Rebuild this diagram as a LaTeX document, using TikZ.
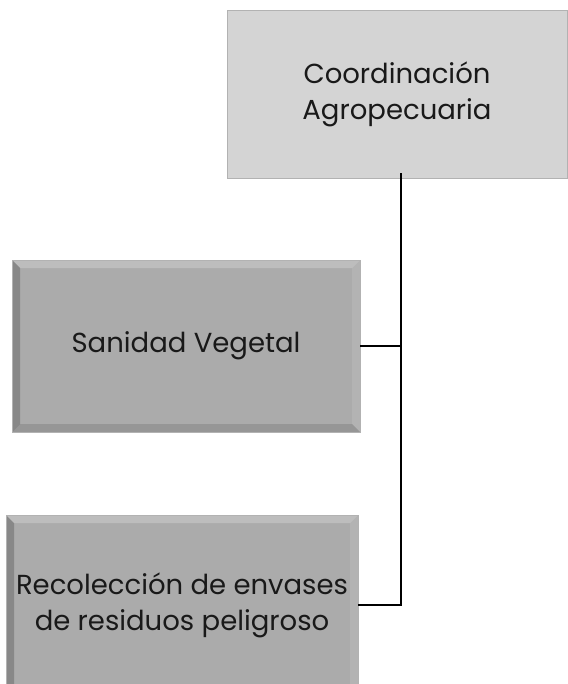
\documentclass[tikz,border=0pt]{standalone}
\usepackage{fontspec}
\setmainfont{Poppins}
\usepackage{tikz}
\usetikzlibrary{positioning}

\tikzset{
  unit/.style={draw=gray!60, line width=0.6pt, align=center, inner sep=0pt,
    font=\fontsize{27.5}{36}\selectfont, text=black!90},
  topunit/.style={unit, fill=black!17},
  subunit/.style={unit, fill=black!33,
    path picture={
      \fill[white, opacity=0.22] (path picture bounding box.north west) -- (path picture bounding box.north east)
        -- ([shift={(-8pt,-8pt)}]path picture bounding box.north east) -- ([shift={(8pt,-8pt)}]path picture bounding box.north west) -- cycle;
      \fill[black, opacity=0.2] (path picture bounding box.north west) -- ([shift={(8pt,-8pt)}]path picture bounding box.north west)
        -- ([shift={(8pt,8pt)}]path picture bounding box.south west) -- (path picture bounding box.south west) -- cycle;
      \fill[black, opacity=0.12] (path picture bounding box.south west) -- (path picture bounding box.south east)
        -- ([shift={(-8pt,8pt)}]path picture bounding box.south east) -- ([shift={(8pt,8pt)}]path picture bounding box.south west) -- cycle;
      \fill[white, opacity=0.1] (path picture bounding box.north east) -- (path picture bounding box.south east)
        -- ([shift={(-8pt,8pt)}]path picture bounding box.south east) -- ([shift={(-8pt,-8pt)}]path picture bounding box.north east) -- cycle;
    }},
  link/.style={line width=2pt, black}
}

\begin{document}
\begin{tikzpicture}[x=1pt, y=-1pt]

        \useasboundingbox (0, 0) rectangle (567, 684);

        \node[topunit, minimum width=340pt, minimum height=168pt] (coord) at (397, 94) {Coordinación\\Agropecuaria};
        \node[subunit, minimum width=348pt, minimum height=172pt] (sanidad) at (186, 346) {Sanidad Vegetal};
        \node[subunit, minimum width=352pt, minimum height=180pt] (envases) at (182, 605) {Recolección de envases\\de residuos peligroso};

        \coordinate (bus) at ([xshift=4pt]coord.south);
        \draw[link] ([yshift=5pt]bus) -- (bus |- envases.east) -- (envases.east);
        \draw[link] (sanidad.east) -- (bus |- sanidad.east);

      \end{tikzpicture}
\end{document}
